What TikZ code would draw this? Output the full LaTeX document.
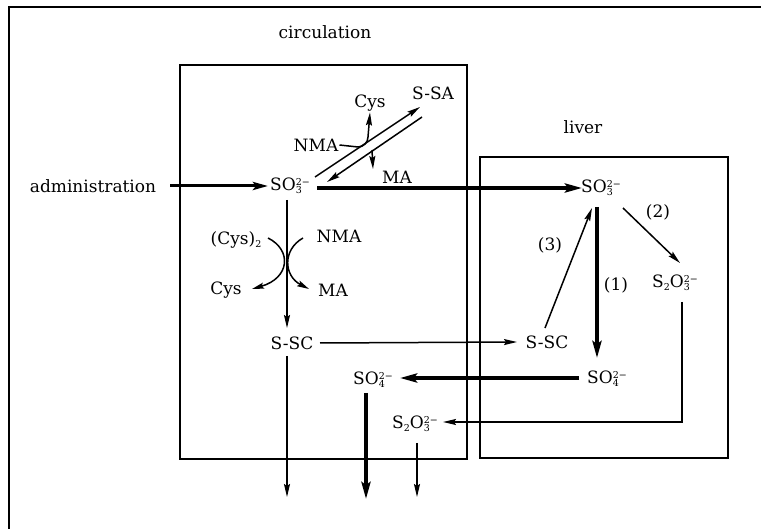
\documentclass[tikz,border=0pt]{standalone}
\usepackage{fontspec}
\setmainfont{DejaVu Serif}
\usetikzlibrary{arrows.meta}
\newcommand\ssb[2]{\makebox[0pt][l]{\raisebox{-0.35ex}{\fontsize{9.5}{9.5}\selectfont #2}}\raisebox{0.6ex}{\fontsize{9.5}{9.5}\selectfont #1}}
\newcommand\sbs[1]{\raisebox{-0.35ex}{\fontsize{9.5}{9.5}\selectfont #1}}
\begin{document}
\begin{tikzpicture}[x=1pt,y=-1pt,
  lbl/.style={inner sep=1pt,font=\fontsize{17}{19}\selectfont},
  box/.style={draw,line width=1.8pt},
  thin/.style={line width=1.5pt,-{Stealth[length=13pt,width=6pt,inset=2pt]}},
  thick/.style={line width=4pt,-{Stealth[length=17pt,width=9pt,inset=3pt]}},
  plain/.style={line width=1.5pt}]
\useasboundingbox (0,0) rectangle (761,529);
\fill[white] (0,0) rectangle (761,529);
% outer frame (left and top only)
\draw[line width=2.5pt] (9,529) -- (9,7) -- (761,7);
% boxes
\draw[box] (180,65) rectangle (467,459);
\draw[box] (480,157) rectangle (728,458);
% labels
\node[lbl] (circ) at (325,32) {circulation};
\node[lbl] (liver) at (583,127) {liver};
\node[lbl] (adm) at (93,186) {administration};
\node[lbl] (so3c) at (290,186) {SO\ssb{2−}{3}};
\node[lbl] (ssa) at (433,93) {S-SA};
\node[lbl] (cysa) at (370,103) {Cys};
\node[lbl] (nmaa) at (316,145) {NMA};
\node[lbl] (maa) at (397,177) {MA};
\node[lbl] (cys2) at (236,240) {(Cys)\sbs{2}};
\node[lbl] (nmab) at (339,236) {NMA};
\node[lbl] (cysb) at (226,290) {Cys};
\node[lbl] (mab) at (333,290) {MA};
\node[lbl] (sscc) at (292,343) {S-SC};
\node[lbl] (so4c) at (373,380) {SO\ssb{2−}{4}};
\node[lbl] (s2o3c) at (415,424) {S\sbs{2}O\ssb{2−}{3}};
\node[lbl] (so3l) at (601,188) {SO\ssb{2−}{3}};
\node[lbl] (s2o3l) at (675,283) {S\sbs{2}O\ssb{2−}{3}};
\node[lbl] (sscl) at (547,342) {S-SC};
\node[lbl] (so4l) at (607,379) {SO\ssb{2−}{4}};
\node[lbl] (l1) at (616,285) {(1)};
\node[lbl] (l2) at (658,212) {(2)};
\node[lbl] (l3) at (550,245) {(3)};
% connector end points
\coordinate (admE) at (170,186);
\coordinate (so3cW) at (268,186);
\coordinate (so3cE) at (317,188);
\coordinate (so3lW) at (582,188);
\coordinate (dUa) at (315,177);
\coordinate (dUb) at (420,107);
\coordinate (dLa) at (422,117);
\coordinate (dLb) at (327,182);
\coordinate (so3cS) at (287,200);
\coordinate (ssccN) at (287,328);
\coordinate (ssccS) at (287,356);
\coordinate (ssccE) at (320,343);
\coordinate (ssclW) at (517,342);
\coordinate (so4lW) at (579,378);
\coordinate (so4cE) at (400,378);
\coordinate (so4cS) at (366,393);
\coordinate (s2o3lS) at (682,302);
\coordinate (s2o3cE) at (443,422);
\coordinate (s2o3cS) at (417,443);
\coordinate (so3lS1) at (597,207);
\coordinate (so4lN) at (597,358);
\coordinate (so3lS2) at (623,208);
\coordinate (s2o3lN) at (680,263);
\coordinate (ssclN) at (545,328);
\coordinate (so3lS3) at (592,208);
\coordinate (exa) at (287,497);
\coordinate (exb) at (366,499);
\coordinate (exc) at (417,497);
% administration -> SO3
\draw[line width=3pt,-{Stealth[length=15pt,width=8pt,inset=3pt]}] (admE) -- (so3cW);
% SO3 circ -> SO3 liver
\draw[thick] (so3cE) -- (so3lW);
% double arrow SO3 <-> S-SA
\draw[thin] (dUa) -- (dUb);
\draw[thin] (dLa) -- (dLb);
% NMA -> Cys branch
\draw[plain] (nmaa.east) -- (358,147);
\draw[thin] (358,147) to[out=0,in=-90] (368,137) -- (cysa.south);
% MA branch
\draw[thin] (372,150) -- (373,169);
% SO3 -> S-SC vertical
\draw[thin] (so3cS) -- (ssccN);
% reaction curves
\draw[plain,-{Stealth[length=12pt,width=6pt,inset=2pt]}] (268,238) .. controls (292,250) and (290,278) .. (252,289);
\draw[plain,-{Stealth[length=12pt,width=6pt,inset=2pt]}] (303,238) .. controls (282,250) and (284,276) .. (309,289);
% S-SC circ -> S-SC liver
\draw[thin] (ssccE) -- (ssclW);
% S-SC circ down
\draw[thin] (ssccS) -- (exa);
% SO4 liver -> SO4 circ
\draw[thick] (so4lW) -- (so4cE);
% SO4 circ down
\draw[thick] (so4cS) -- (exb);
% S2O3 liver -> S2O3 circ
\draw[thin] (s2o3lS) |- (s2o3cE);
% S2O3 circ down
\draw[thin] (s2o3cS) -- (exc);
% liver reactions
\draw[thick] (so3lS1) -- (so4lN);
\draw[thin] (so3lS2) -- (s2o3lN);
\draw[thin] (ssclN) -- (so3lS3);
\end{tikzpicture}
\end{document}
